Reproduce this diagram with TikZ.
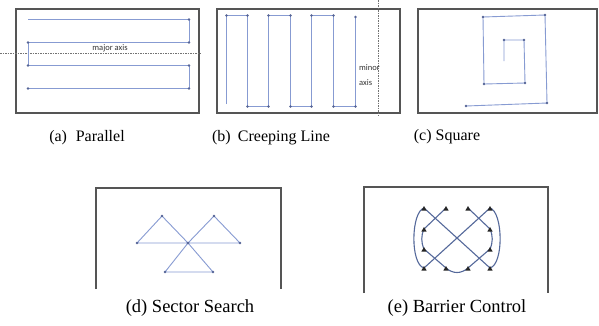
\documentclass[tikz,border=0pt]{standalone}
\usepackage{fontspec}
\setmainfont{Liberation Serif}
\newfontfamily\capfont{Liberation Serif}
\newfontfamily\labelfont{Carlito}
\usetikzlibrary{shapes.geometric}
\definecolor{routeblue}{RGB}{135,155,210}
\definecolor{dotblue}{RGB}{85,100,150}
\definecolor{barrierblue}{RGB}{85,105,155}
\definecolor{framegray}{RGB}{85,85,85}
\tikzset{
  frame/.style={draw=framegray, line width=1.4pt},
  route/.style={draw=routeblue, line width=0.9pt, line join=round},
  axisline/.style={draw=black!55, line width=0.6pt, dash pattern=on 1.5pt off 1pt},
  caption/.style={font=\capfont\fontsize{16}{18}\selectfont, inner sep=0pt},
  bigcaption/.style={font=\capfont\fontsize{18.5}{20}\selectfont, inner sep=0pt},
  axislabel/.style={font=\labelfont\fontsize{8.5}{10}\selectfont, text=black!80, inner sep=0pt},
  barrier/.style={draw=barrierblue, line width=1.1pt, line join=round},
  marker/.style={regular polygon, regular polygon sides=3, fill=black!85, inner sep=0pt, minimum size=6pt},
}
\begin{document}
\begin{tikzpicture}[x=1pt,y=-1pt]
\useasboundingbox (0,0) rectangle (599,325);
\fill[white] (0,0) rectangle (599,325);

% ---------- (a) Parallel ----------
\draw[frame] (16,9) rectangle (199,113);
\draw[axisline] (0,53) -- (201,53);
\node[axislabel] (majlab) at (110,48) {major axis};
\draw[route] (28,19.5) -- (189,19.5) -- (189,42.5) -- (28,42.5) -- (28,65.5) -- (189,65.5) -- (189,88.5) -- (28,88.5);
\foreach \p in {(189,19.5),(189,42.5),(28,42.5),(28,65.5),(189,65.5),(189,88.5),(28,88.5)}
  \fill[dotblue] \p circle (1.3);
\node[caption] (capa) at (87,138) {(a)\hspace{0.3em} Parallel};

% ---------- (b) Creeping Line ----------
\draw[frame] (217,9) rectangle (400,113);
\draw[axisline] (378,0) -- (378,116);
\node[axislabel, anchor=west] (minlab1) at (359,68) {minor};
\node[axislabel, anchor=west] (minlab2) at (359,83) {axis};
\draw[route] (226.5,104) -- (226.5,15.5) -- (247.5,15.5) -- (247.5,106.5) -- (268.5,106.5) -- (268.5,15.5) -- (290.5,15.5) -- (290.5,106.5) -- (311.5,106.5) -- (311.5,15.5) -- (333.5,15.5) -- (333.5,106.5) -- (355.5,106.5) -- (355.5,17);
\foreach \p in {(226.5,15.5),(247.5,15.5),(247.5,106.5),(268.5,106.5),(268.5,15.5),(290.5,15.5),(290.5,106.5),(311.5,106.5),(311.5,15.5),(333.5,15.5),(333.5,106.5),(355.5,106.5),(355.5,17)}
  \fill[dotblue] \p circle (1.3);
\node[caption] (capb) at (271,138) {(b)\hspace{0.2em} Creeping Line};

% ---------- (c) Square ----------
\draw[frame] (418,9) rectangle (597,113);
\draw[route] (504,61) -- (504,40) -- (524,40) -- (525,83) -- (484,84) -- (483,17) -- (545,15) -- (547,103) -- (466,106);
\foreach \p in {(504,40),(524,40),(525,83),(484,84),(483,17),(545,15),(547,103),(466,106)}
  \fill[dotblue] \p circle (1.3);
\node[caption] (capc) at (447,137) {(c) Square};

% ---------- (d) Sector Search ----------
\draw[frame] (96,289) -- (96,188) -- (281,188) -- (281,289);
\coordinate (dc) at (188,243);
\coordinate (da1) at (162,216);
\coordinate (dl) at (137,243);
\coordinate (da2) at (214,216);
\coordinate (dr) at (240,243);
\coordinate (db1) at (213,272);
\coordinate (db2) at (165,272);
\draw[route] (dc) -- (da1) -- (dl) -- (dr) -- (da2) -- (dc) -- (db1) -- (db2) -- cycle;
\foreach \p in {dc,da1,dl,da2,dr,db1,db2}
  \fill[dotblue] (\p) circle (1.3);
\node[bigcaption] (capd) at (190,308) {(d) Sector Search};

% ---------- (e) Barrier Control ----------
\draw[frame] (364,293) -- (364,187) -- (548,187) -- (548,293);
\coordinate (e11) at (424,208);
\coordinate (e21) at (446,208);
\coordinate (e31) at (468,208);
\coordinate (e41) at (490,208);
\coordinate (e12) at (424,229);
\coordinate (e42) at (490,229);
\coordinate (e13) at (424,249);
\coordinate (e43) at (490,249);
\coordinate (e14) at (424,268);
\coordinate (e24) at (446,268);
\coordinate (e34) at (468,268);
\coordinate (e44) at (490,268);
% figure-eight
\draw[barrier] (e11) .. controls (411,212) and (410,264) .. (e14) -- (e41)
  .. controls (503,212) and (504,264) .. (e44) -- cycle;
% inner open octagon
\draw[barrier] (e21) -- (e12) .. controls (421,236) and (421,242) .. (e13) -- (e24)
  .. controls (453,274) and (461,274) .. (e34) -- (e43)
  .. controls (493,242) and (493,236) .. (e42) -- (e31);
\foreach \p in {e11,e21,e31,e41,e12,e42,e13,e43,e14,e24,e34,e44}
  \node[marker] at ([yshift=-1pt]\p) {};
\fill[barrierblue] (457,238) circle (1.3);
\node[bigcaption] (cape) at (457,308) {(e) Barrier Control};
\end{tikzpicture}
\end{document}
